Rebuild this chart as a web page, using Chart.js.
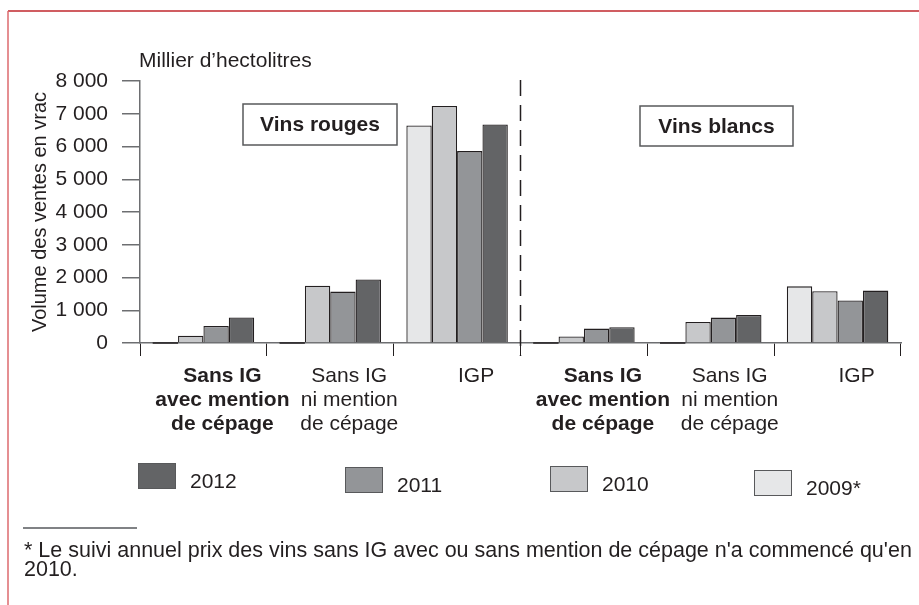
<!DOCTYPE html>
<html>
<head>
<meta charset="utf-8">
<script src="https://cdn.jsdelivr.net/npm/chart.js@4.4.0/dist/chart.umd.min.js"></script>
<style>
  html, body { margin: 0; padding: 0; background: #fff; }
  #wrap { width: 919px; height: 605px; }
</style>
</head>
<body>
<div id="wrap"><canvas id="vracChart" width="919" height="605"></canvas></div>
<script>
// Volume des ventes en vrac, en millier d'hectolitres
const categories = [
  ["Sans IG", "avec mention", "de cépage"],
  ["Sans IG", "ni mention", "de cépage"],
  ["IGP"],
  ["Sans IG", "avec mention", "de cépage"],
  ["Sans IG", "ni mention", "de cépage"],
  ["IGP"]
];
const years = ["2009*", "2010", "2011", "2012"];
const v2009 = [0, 0, 6640, 0, 0, 1730];
const v2010 = [220, 1750, 7240, 200, 640, 1580];
const v2011 = [520, 1570, 5860, 440, 775, 1300];
const v2012 = [780, 1940, 6670, 480, 855, 1600];
const yTicks = [0, 1000, 2000, 3000, 4000, 5000, 6000, 7000, 8000];
const colours = ["#e6e7e8", "#c7c8ca", "#939598", "#636466"];
const groupNames = ["Vins rouges", "Vins blancs"];
const unitLabel = "Millier d’hectolitres";
const yTitle = "Volume des ventes en vrac";
const footnote = [
  "* Le suivi annuel prix des vins sans IG avec ou sans mention de cépage n'a commencé qu'en",
  "2010."
];

const FONT = "'Liberation Sans', Arial, sans-serif";
const INK = "#231f20";

function fmt(v) {
  return String(v).replace(/\B(?=(\d{3})+(?!\d))/g, " ");
}

// everything that is not a bar: frame, boxes, separator, legend, note
const extras = {
  id: 'extras',
  afterDraw(chart) {
    const ctx = chart.ctx;
    const x = chart.scales.x;
    ctx.save();

    // red frame
    ctx.lineWidth = 1.5;
    ctx.strokeStyle = "#c1272d";
    ctx.beginPath(); ctx.moveTo(8, 11); ctx.lineTo(919, 11); ctx.stroke();
    ctx.strokeStyle = "#dd6a6e";
    ctx.beginPath(); ctx.moveTo(8, 11); ctx.lineTo(8, 605); ctx.stroke();

    // unit
    ctx.fillStyle = INK;
    ctx.font = "21px " + FONT;
    ctx.textAlign = "left";
    ctx.textBaseline = "alphabetic";
    ctx.fillText(unitLabel, 139, 67);

    // dashed separator between rouges and blancs
    const sepX = (x.getPixelForValue(2) + x.getPixelForValue(3)) / 2;
    ctx.strokeStyle = INK;
    ctx.lineWidth = 1.5;
    ctx.setLineDash([16, 9]);
    ctx.beginPath(); ctx.moveTo(sepX, chart.chartArea.top - 1); ctx.lineTo(sepX, chart.chartArea.bottom + 13); ctx.stroke();
    ctx.setLineDash([]);

    // group boxes
    const boxes = [[243, 104, 154, 41], [640, 106, 153, 40]];
    ctx.font = "bold 21px " + FONT;
    ctx.textAlign = "center";
    ctx.textBaseline = "middle";
    boxes.forEach((b, i) => {
      ctx.fillStyle = "#fff";
      ctx.fillRect(b[0], b[1], b[2], b[3]);
      ctx.strokeStyle = "#58595b";
      ctx.lineWidth = 1.5;
      ctx.strokeRect(b[0], b[1], b[2], b[3]);
      ctx.fillStyle = INK;
      ctx.fillText(groupNames[i], b[0] + b[2] / 2, b[1] + b[3] / 2 + 1);
    });

    // legend, newest year first
    const spots = [[138, 463], [345, 467], [550, 466], [754, 470]];
    ctx.font = "21px " + FONT;
    ctx.textAlign = "left";
    ctx.textBaseline = "alphabetic";
    spots.forEach((s, i) => {
      const ds = chart.data.datasets[3 - i];
      ctx.fillStyle = ds.backgroundColor;
      ctx.fillRect(s[0], s[1], 38, 26);
      ctx.strokeStyle = "#58595b";
      ctx.lineWidth = 1;
      ctx.strokeRect(s[0] + 0.5, s[1] + 0.5, 37, 25);
      ctx.fillStyle = INK;
      ctx.fillText(ds.label, s[0] + 52, s[1] + 25);
    });

    // footnote
    ctx.strokeStyle = "#808285";
    ctx.lineWidth = 2;
    ctx.beginPath(); ctx.moveTo(23, 528); ctx.lineTo(137, 528); ctx.stroke();
    ctx.fillStyle = INK;
    ctx.font = "21.5px " + FONT;
    ctx.fillText(footnote[0], 24, 557);
    ctx.fillText(footnote[1], 24, 576);

    // zero-height bars still show as a dark line on the baseline
    chart.data.datasets.forEach((ds, di) => {
      chart.getDatasetMeta(di).data.forEach((bar, i) => {
        if (ds.data[i] === 0) {
          ctx.strokeStyle = INK;
          ctx.lineWidth = 1.5;
          ctx.beginPath();
          ctx.moveTo(bar.x - bar.width / 2, bar.base);
          ctx.lineTo(bar.x + bar.width / 2, bar.base);
          ctx.stroke();
        }
      });
    });

    ctx.restore();
  }
};

new Chart(document.getElementById("vracChart"), {
  type: 'bar',
  data: {
    labels: categories,
    datasets: [
      { label: years[0], data: v2009, backgroundColor: colours[0] },
      { label: years[1], data: v2010, backgroundColor: colours[1] },
      { label: years[2], data: v2011, backgroundColor: colours[2] },
      { label: years[3], data: v2012, backgroundColor: colours[3] }
    ].map(d => Object.assign(d, { borderColor: INK, borderWidth: 1.3 }))
  },
  options: {
    responsive: false,
    animation: false,
    categoryPercentage: 0.8,
    barPercentage: 1.0,
    layout: { padding: { left: 0, right: 18, top: 81, bottom: 0 } },
    plugins: {
      legend: { display: false },
      title: { display: false },
      tooltip: { enabled: false }
    },
    scales: {
      x: {
        afterFit: s => { s.height = 262; },
        grid: { drawOnChartArea: false, tickLength: 13, color: INK, lineWidth: 1 },
        border: { color: "#6d6e71", width: 1.5 },
        ticks: {
          color: INK,
          padding: 8,
          labelOffset: 19,
          maxRotation: 0,
          autoSkip: false,
          font: c => ({ family: FONT, size: 21, lineHeight: 1.15, weight: c.index % 3 === 0 ? 'bold' : 'normal' })
        }
      },
      y: {
        min: 0,
        max: 8000,
        afterFit: s => { s.width = 140; },
        afterBuildTicks: s => { s.ticks = yTicks.map(v => ({ value: v })); },
        grid: { drawOnChartArea: false, tickLength: 18, color: "#6d6e71", lineWidth: 1.5 },
        border: { color: "#6d6e71", width: 1.5 },
        ticks: {
          color: INK,
          padding: 14,
          font: { family: FONT, size: 21 },
          callback: v => fmt(v)
        },
        title: {
          display: true,
          text: yTitle,
          color: INK,
          font: { family: FONT, size: 20 },
          padding: { top: 28, bottom: 0 }
        }
      }
    }
  },
  plugins: [extras]
});
</script>
</body>
</html>
